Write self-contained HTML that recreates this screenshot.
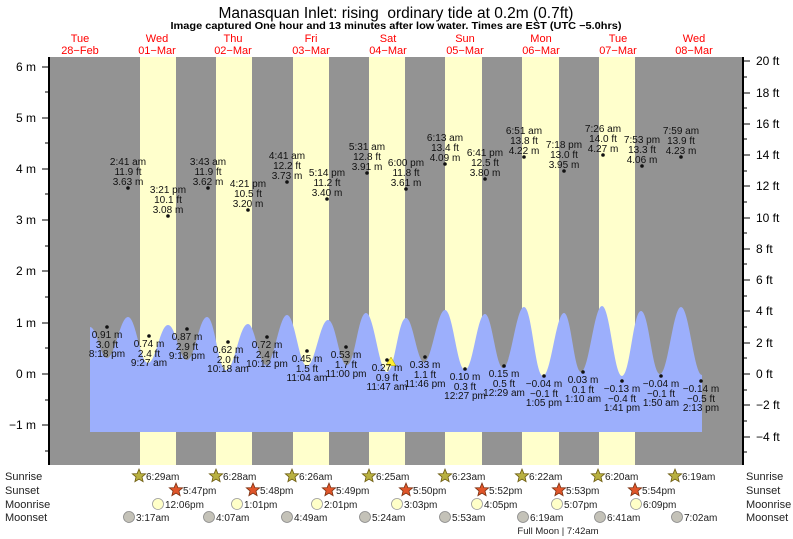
<!DOCTYPE html>
<html><head><meta charset="utf-8"><style>
html,body{margin:0;padding:0;background:#fff}
svg{display:block;font-family:"Liberation Sans",sans-serif}
</style></head><body>
<svg width="793" height="539" viewBox="0 0 793 539" xmlns="http://www.w3.org/2000/svg">
<defs>
<polygon id="st" points="0,-7 1.9,-2.4 6.7,-2.2 3,1 4.1,5.7 0,3.1 -4.1,5.7 -3,1 -6.7,-2.2 -1.9,-2.4"/>
</defs>
<text x="396" y="18" font-size="15.5" text-anchor="middle">Manasquan Inlet: rising&#160; ordinary tide at 0.2m (0.7ft)</text>
<text x="396" y="29" font-size="10" font-weight="bold" text-anchor="middle" textLength="451" lengthAdjust="spacingAndGlyphs">Image captured One hour and 13 minutes after low water. Times are EST (UTC −5.0hrs)</text>
<g fill="#ff0000" font-size="11" text-anchor="middle">
<text x="80" y="42">Tue</text><text x="80" y="54">28−Feb</text>
<text x="157" y="42">Wed</text><text x="157" y="54">01−Mar</text>
<text x="233" y="42">Thu</text><text x="233" y="54">02−Mar</text>
<text x="311" y="42">Fri</text><text x="311" y="54">03−Mar</text>
<text x="388" y="42">Sat</text><text x="388" y="54">04−Mar</text>
<text x="465" y="42">Sun</text><text x="465" y="54">05−Mar</text>
<text x="541" y="42">Mon</text><text x="541" y="54">06−Mar</text>
<text x="618" y="42">Tue</text><text x="618" y="54">07−Mar</text>
<text x="694" y="42">Wed</text><text x="694" y="54">08−Mar</text>
</g>
<rect x="49" y="57" width="694" height="408" fill="#939393"/>
<g fill="#ffffcc">
<rect x="140" y="57" width="36" height="408"/>
<rect x="216" y="57" width="36" height="408"/>
<rect x="293" y="57" width="36" height="408"/>
<rect x="369" y="57" width="36" height="408"/>
<rect x="445" y="57" width="37" height="408"/>
<rect x="522" y="57" width="37" height="408"/>
<rect x="599" y="57" width="36" height="408"/>
</g>
<path fill="#9caffc" d="M90,327 C97,327 100,358 107,358 C115,358 120,317 128,317 C136,317 140,363 148,363 C156,363 160,325 168,325 C176,325 179,360 187,360 C195,360 199,317 207,317 C215,317 218,370 226,370 C235,370 239,324 248,324 C255,324 259,365 266,365 C274,365 279,315 287,315 C295,315 299,366 307,366 C315,366 320,320 328,320 C336,320 339,365 347,365 C355,365 358,313 366,313 C374,313 379,372 387,372 C395,372 398,318 406,318 C413,318 417,362 424,362 C432,362 437,310 445,310 C453,310 457,370 465,370 C473,370 477,314 485,314 C492,314 496,368 503,368 C511,368 516,307 524,307 C532,307 535,376 543,376 C551,376 556,313 564,313 C571,313 574,372 581,372 C589,372 594,306 602,306 C610,306 614,376 622,376 C630,376 633,311 641,311 C649,311 652,374 660,374 C668,374 673,307 681,307 C689,307 694,375 702,375 L702,432 L90,432 Z"/>
<polygon points="386,365 391,357 396,366" fill="#ffee33" stroke="#aa9900" stroke-width="0.5"/>
<line x1="49" y1="57" x2="49" y2="465" stroke="#000" stroke-width="2"/>
<line x1="743" y1="57" x2="743" y2="465" stroke="#000" stroke-width="2"/>
<g stroke="#000" stroke-width="1">
<line x1="42" y1="67" x2="49" y2="67"/><line x1="42" y1="118" x2="49" y2="118"/><line x1="42" y1="169" x2="49" y2="169"/><line x1="42" y1="220" x2="49" y2="220"/><line x1="42" y1="271" x2="49" y2="271"/><line x1="42" y1="323" x2="49" y2="323"/><line x1="42" y1="374" x2="49" y2="374"/><line x1="42" y1="425" x2="49" y2="425"/>
<line x1="45" y1="92" x2="49" y2="92"/><line x1="45" y1="143" x2="49" y2="143"/><line x1="45" y1="194" x2="49" y2="194"/><line x1="45" y1="246" x2="49" y2="246"/><line x1="45" y1="297" x2="49" y2="297"/><line x1="45" y1="348" x2="49" y2="348"/><line x1="45" y1="400" x2="49" y2="400"/><line x1="45" y1="451" x2="49" y2="451"/>
<line x1="743" y1="61" x2="750" y2="61"/><line x1="743" y1="93" x2="750" y2="93"/><line x1="743" y1="124" x2="750" y2="124"/><line x1="743" y1="155" x2="750" y2="155"/><line x1="743" y1="186" x2="750" y2="186"/><line x1="743" y1="218" x2="750" y2="218"/><line x1="743" y1="249" x2="750" y2="249"/><line x1="743" y1="280" x2="750" y2="280"/><line x1="743" y1="311" x2="750" y2="311"/><line x1="743" y1="343" x2="750" y2="343"/><line x1="743" y1="374" x2="750" y2="374"/><line x1="743" y1="405" x2="750" y2="405"/><line x1="743" y1="437" x2="750" y2="437"/>
<line x1="743" y1="77" x2="747" y2="77"/><line x1="743" y1="108" x2="747" y2="108"/><line x1="743" y1="139" x2="747" y2="139"/><line x1="743" y1="171" x2="747" y2="171"/><line x1="743" y1="202" x2="747" y2="202"/><line x1="743" y1="233" x2="747" y2="233"/><line x1="743" y1="264" x2="747" y2="264"/><line x1="743" y1="296" x2="747" y2="296"/><line x1="743" y1="327" x2="747" y2="327"/><line x1="743" y1="358" x2="747" y2="358"/><line x1="743" y1="390" x2="747" y2="390"/><line x1="743" y1="421" x2="747" y2="421"/><line x1="743" y1="452" x2="747" y2="452"/>
</g>
<g font-size="12" text-anchor="end">
<text x="36" y="71">6 m</text><text x="36" y="122">5 m</text><text x="36" y="173">4 m</text><text x="36" y="224">3 m</text><text x="36" y="275">2 m</text><text x="36" y="327">1 m</text><text x="36" y="378">0 m</text><text x="36" y="429">−1 m</text>
</g>
<g font-size="12">
<text x="756" y="65">20 ft</text><text x="756" y="97">18 ft</text><text x="756" y="128">16 ft</text><text x="756" y="159">14 ft</text><text x="756" y="190">12 ft</text><text x="756" y="222">10 ft</text><text x="756" y="253">8 ft</text><text x="756" y="284">6 ft</text><text x="756" y="315">4 ft</text><text x="756" y="347">2 ft</text><text x="756" y="378">0 ft</text><text x="756" y="409">−2 ft</text><text x="756" y="441">−4 ft</text>
</g>
<g font-size="10" text-anchor="middle" fill="#111">
<circle cx="128" cy="188" r="1.8"/><text x="128" y="165">2:41 am</text><text x="128" y="175">11.9 ft</text><text x="128" y="185">3.63 m</text>
<circle cx="168" cy="216" r="1.8"/><text x="168" y="193">3:21 pm</text><text x="168" y="203">10.1 ft</text><text x="168" y="213">3.08 m</text>
<circle cx="208" cy="188" r="1.8"/><text x="208" y="165">3:43 am</text><text x="208" y="175">11.9 ft</text><text x="208" y="185">3.62 m</text>
<circle cx="248" cy="210" r="1.8"/><text x="248" y="187">4:21 pm</text><text x="248" y="197">10.5 ft</text><text x="248" y="207">3.20 m</text>
<circle cx="287" cy="182" r="1.8"/><text x="287" y="159">4:41 am</text><text x="287" y="169">12.2 ft</text><text x="287" y="179">3.73 m</text>
<circle cx="327" cy="199" r="1.8"/><text x="327" y="176">5:14 pm</text><text x="327" y="186">11.2 ft</text><text x="327" y="196">3.40 m</text>
<circle cx="367" cy="173" r="1.8"/><text x="367" y="150">5:31 am</text><text x="367" y="160">12.8 ft</text><text x="367" y="170">3.91 m</text>
<circle cx="406" cy="189" r="1.8"/><text x="406" y="166">6:00 pm</text><text x="406" y="176">11.8 ft</text><text x="406" y="186">3.61 m</text>
<circle cx="445" cy="164" r="1.8"/><text x="445" y="141">6:13 am</text><text x="445" y="151">13.4 ft</text><text x="445" y="161">4.09 m</text>
<circle cx="485" cy="179" r="1.8"/><text x="485" y="156">6:41 pm</text><text x="485" y="166">12.5 ft</text><text x="485" y="176">3.80 m</text>
<circle cx="524" cy="157" r="1.8"/><text x="524" y="134">6:51 am</text><text x="524" y="144">13.8 ft</text><text x="524" y="154">4.22 m</text>
<circle cx="564" cy="171" r="1.8"/><text x="564" y="148">7:18 pm</text><text x="564" y="158">13.0 ft</text><text x="564" y="168">3.95 m</text>
<circle cx="603" cy="155" r="1.8"/><text x="603" y="132">7:26 am</text><text x="603" y="142">14.0 ft</text><text x="603" y="152">4.27 m</text>
<circle cx="642" cy="166" r="1.8"/><text x="642" y="143">7:53 pm</text><text x="642" y="153">13.3 ft</text><text x="642" y="163">4.06 m</text>
<circle cx="681" cy="157" r="1.8"/><text x="681" y="134">7:59 am</text><text x="681" y="144">13.9 ft</text><text x="681" y="154">4.23 m</text>
</g>
<g font-size="10" text-anchor="middle" fill="#111">
<circle cx="107" cy="327" r="1.8"/><text x="107" y="338">0.91 m</text><text x="107" y="348">3.0 ft</text><text x="107" y="357">8:18 pm</text>
<circle cx="149" cy="336" r="1.8"/><text x="149" y="347">0.74 m</text><text x="149" y="357">2.4 ft</text><text x="149" y="366">9:27 am</text>
<circle cx="187" cy="329" r="1.8"/><text x="187" y="340">0.87 m</text><text x="187" y="350">2.9 ft</text><text x="187" y="359">9:18 pm</text>
<circle cx="228" cy="342" r="1.8"/><text x="228" y="353">0.62 m</text><text x="228" y="363">2.0 ft</text><text x="228" y="372">10:18 am</text>
<circle cx="267" cy="337" r="1.8"/><text x="267" y="348">0.72 m</text><text x="267" y="358">2.4 ft</text><text x="267" y="367">10:12 pm</text>
<circle cx="307" cy="351" r="1.8"/><text x="307" y="362">0.45 m</text><text x="307" y="372">1.5 ft</text><text x="307" y="381">11:04 am</text>
<circle cx="346" cy="347" r="1.8"/><text x="346" y="358">0.53 m</text><text x="346" y="368">1.7 ft</text><text x="346" y="377">11:00 pm</text>
<circle cx="387" cy="360" r="1.8"/><text x="387" y="371">0.27 m</text><text x="387" y="381">0.9 ft</text><text x="387" y="390">11:47 am</text>
<circle cx="425" cy="357" r="1.8"/><text x="425" y="368">0.33 m</text><text x="425" y="378">1.1 ft</text><text x="425" y="387">11:46 pm</text>
<circle cx="465" cy="369" r="1.8"/><text x="465" y="380">0.10 m</text><text x="465" y="390">0.3 ft</text><text x="465" y="399">12:27 pm</text>
<circle cx="504" cy="366" r="1.8"/><text x="504" y="377">0.15 m</text><text x="504" y="387">0.5 ft</text><text x="504" y="396">12:29 am</text>
<circle cx="544" cy="376" r="1.8"/><text x="544" y="387">−0.04 m</text><text x="544" y="397">−0.1 ft</text><text x="544" y="406">1:05 pm</text>
<circle cx="583" cy="372" r="1.8"/><text x="583" y="383">0.03 m</text><text x="583" y="393">0.1 ft</text><text x="583" y="402">1:10 am</text>
<circle cx="622" cy="381" r="1.8"/><text x="622" y="392">−0.13 m</text><text x="622" y="402">−0.4 ft</text><text x="622" y="411">1:41 pm</text>
<circle cx="661" cy="376" r="1.8"/><text x="661" y="387">−0.04 m</text><text x="661" y="397">−0.1 ft</text><text x="661" y="406">1:50 am</text>
<circle cx="701" cy="381" r="1.8"/><text x="701" y="392">−0.14 m</text><text x="701" y="402">−0.5 ft</text><text x="701" y="411">2:13 pm</text>
</g>
<g font-size="11" fill="#222">
<text x="5" y="480">Sunrise</text><text x="5" y="494">Sunset</text><text x="5" y="508">Moonrise</text><text x="5" y="521">Moonset</text>
<text x="746" y="480">Sunrise</text><text x="746" y="494">Sunset</text><text x="746" y="508">Moonrise</text><text x="746" y="521">Moonset</text>
</g>
<g fill="#b8b040" stroke="#6b5a10" stroke-width="0.8">
<use href="#st" x="139" y="476"/><use href="#st" x="216" y="476"/><use href="#st" x="292" y="476"/><use href="#st" x="369" y="476"/><use href="#st" x="445" y="476"/><use href="#st" x="522" y="476"/><use href="#st" x="598" y="476"/><use href="#st" x="675" y="476"/>
</g>
<g fill="#e0552a" stroke="#7a3010" stroke-width="0.8">
<use href="#st" x="176" y="490"/><use href="#st" x="253" y="490"/><use href="#st" x="329" y="490"/><use href="#st" x="406" y="490"/><use href="#st" x="482" y="490"/><use href="#st" x="559" y="490"/><use href="#st" x="635" y="490"/>
</g>
<g fill="#ffffc8" stroke="#999" stroke-width="0.8">
<circle cx="158" cy="504" r="5.5"/><circle cx="237" cy="504" r="5.5"/><circle cx="317" cy="504" r="5.5"/><circle cx="397" cy="504" r="5.5"/><circle cx="477" cy="504" r="5.5"/><circle cx="557" cy="504" r="5.5"/><circle cx="636" cy="504" r="5.5"/>
</g>
<g fill="#c4c2b8" stroke="#888" stroke-width="0.8">
<circle cx="129" cy="517" r="5.5"/><circle cx="209" cy="517" r="5.5"/><circle cx="287" cy="517" r="5.5"/><circle cx="365" cy="517" r="5.5"/><circle cx="445" cy="517" r="5.5"/><circle cx="523" cy="517" r="5.5"/><circle cx="600" cy="517" r="5.5"/><circle cx="677" cy="517" r="5.5"/>
</g>
<g font-size="10" fill="#222">
<text x="146" y="480">6:29am</text><text x="223" y="480">6:28am</text><text x="299" y="480">6:26am</text><text x="376" y="480">6:25am</text><text x="452" y="480">6:23am</text><text x="529" y="480">6:22am</text><text x="605" y="480">6:20am</text><text x="682" y="480">6:19am</text>
<text x="183" y="494">5:47pm</text><text x="260" y="494">5:48pm</text><text x="336" y="494">5:49pm</text><text x="413" y="494">5:50pm</text><text x="489" y="494">5:52pm</text><text x="566" y="494">5:53pm</text><text x="642" y="494">5:54pm</text>
<text x="165" y="508">12:06pm</text><text x="244" y="508">1:01pm</text><text x="324" y="508">2:01pm</text><text x="404" y="508">3:03pm</text><text x="484" y="508">4:05pm</text><text x="564" y="508">5:07pm</text><text x="643" y="508">6:09pm</text>
<text x="136" y="521">3:17am</text><text x="216" y="521">4:07am</text><text x="294" y="521">4:49am</text><text x="372" y="521">5:24am</text><text x="452" y="521">5:53am</text><text x="530" y="521">6:19am</text><text x="607" y="521">6:41am</text><text x="684" y="521">7:02am</text>
<text x="558" y="534" font-size="9.5" text-anchor="middle">Full Moon | 7:42am</text>
</g>
</svg>
</body></html>
